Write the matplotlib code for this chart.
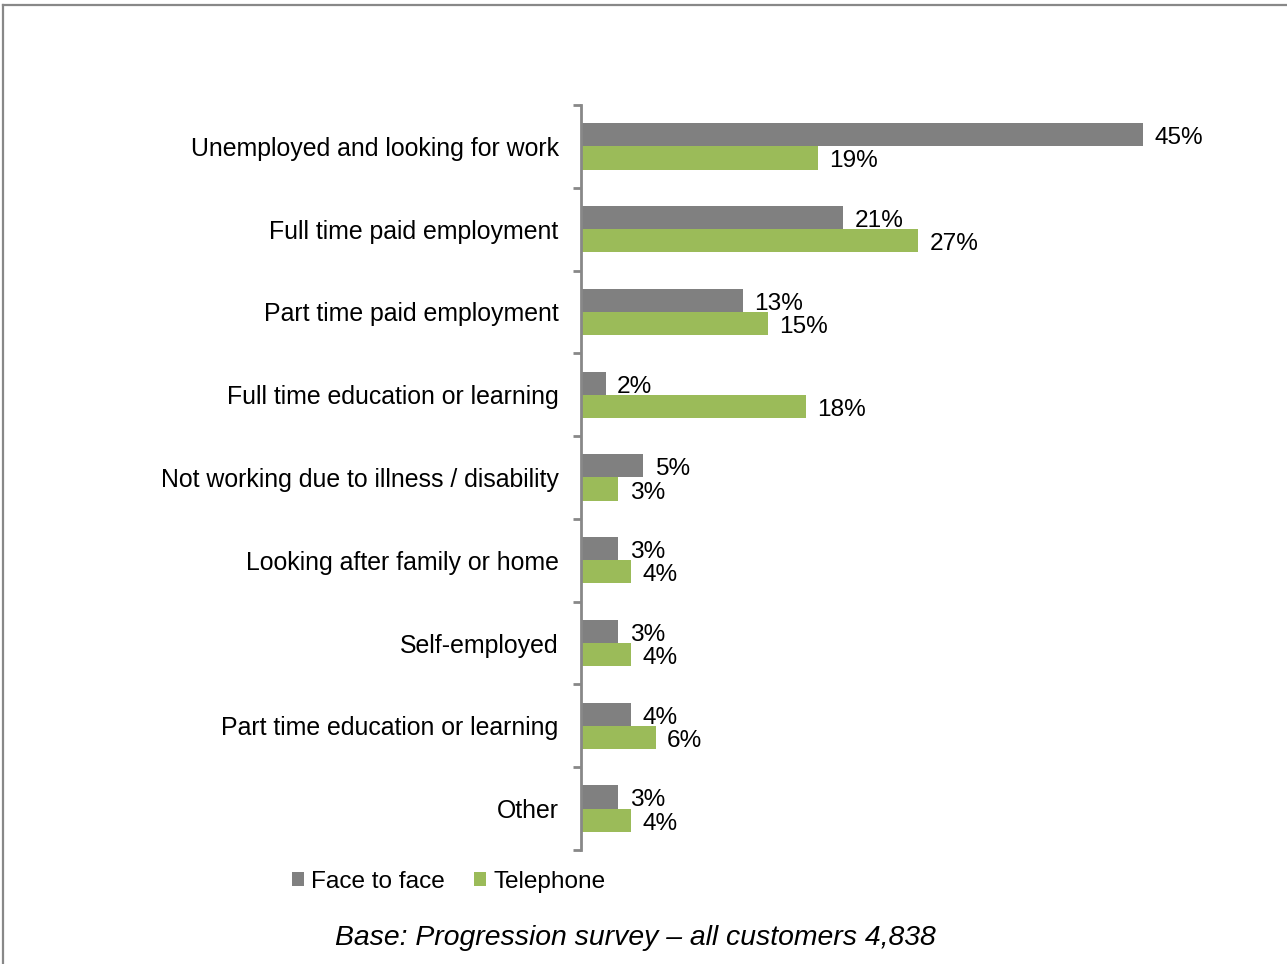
import numpy as np
import matplotlib.pyplot as plt
from matplotlib.lines import Line2D

plt.rcParams['font.family'] = ['Liberation Sans', 'DejaVu Sans']

categories = [
    "Unemployed and looking for work",
    "Full time paid employment",
    "Part time paid employment",
    "Full time education or learning",
    "Not working due to illness / disability",
    "Looking after family or home",
    "Self-employed",
    "Part time education or learning",
    "Other",
]
face_to_face = [45, 21, 13, 2, 5, 3, 3, 4, 3]
telephone = [19, 27, 15, 18, 3, 4, 4, 6, 4]

grey = "#808080"
green = "#9BBB59"
axis_grey = "#888888"
fs = 17.9

fig = plt.figure(figsize=(12.87, 9.64), dpi=100)
ax = fig.add_axes([0.4514, 0.1183, 0.4856, 0.7728])

y = np.arange(len(categories))
h = 0.28
ax.barh(y - h / 2, face_to_face, height=h, color=grey, label="Face to face")
ax.barh(y + h / 2, telephone, height=h, color=green, label="Telephone")

for yi, v in zip(y, face_to_face):
    ax.annotate(f"{v}%", (v, yi - h / 2), xytext=(8, -2.5), textcoords="offset points",
                va="center", ha="left", fontsize=17.6)
for yi, v in zip(y, telephone):
    ax.annotate(f"{v}%", (v, yi + h / 2), xytext=(8, -2.5), textcoords="offset points",
                va="center", ha="left", fontsize=17.6)

ax.set_xlim(0, 50)
ax.set_ylim(len(categories) - 0.5, -0.5)

# tick marks on category boundaries, labels at the centres
ax.set_yticks(np.arange(-0.5, len(categories), 1.0))
ax.set_yticklabels([])
ax.tick_params(axis="y", which="major", length=6, width=2, color=axis_grey)
ax.set_yticks(y, minor=True)
ax.set_yticklabels(categories, minor=True, fontsize=fs)
ax.tick_params(axis="y", which="minor", length=0, pad=16)

ax.set_xticks([])
for s in ["top", "right", "bottom"]:
    ax.spines[s].set_visible(False)
ax.spines["left"].set_color(axis_grey)
ax.spines["left"].set_linewidth(2)

fig.legend(loc="center left", bbox_to_anchor=(0.219, 0.085), ncol=2, frameon=False,
           fontsize=17.6, handlelength=0.5, handleheight=0.5, handletextpad=0.3,
           columnspacing=1.2, borderaxespad=0)

fig.text(0.4935, 0.027, "Base: Progression survey \u2013 all customers 4,838",
         ha="center", va="center", fontsize=20.4, style="italic")

# outer frame (top and left edges)
fig.add_artist(Line2D([0.002, 0.002], [0.0, 0.9945], transform=fig.transFigure,
                      color=axis_grey, lw=1.6))
fig.add_artist(Line2D([0.002, 1.0], [0.9945, 0.9945], transform=fig.transFigure,
                      color=axis_grey, lw=1.6))

fig.savefig("out.png", dpi=100, facecolor="white")
